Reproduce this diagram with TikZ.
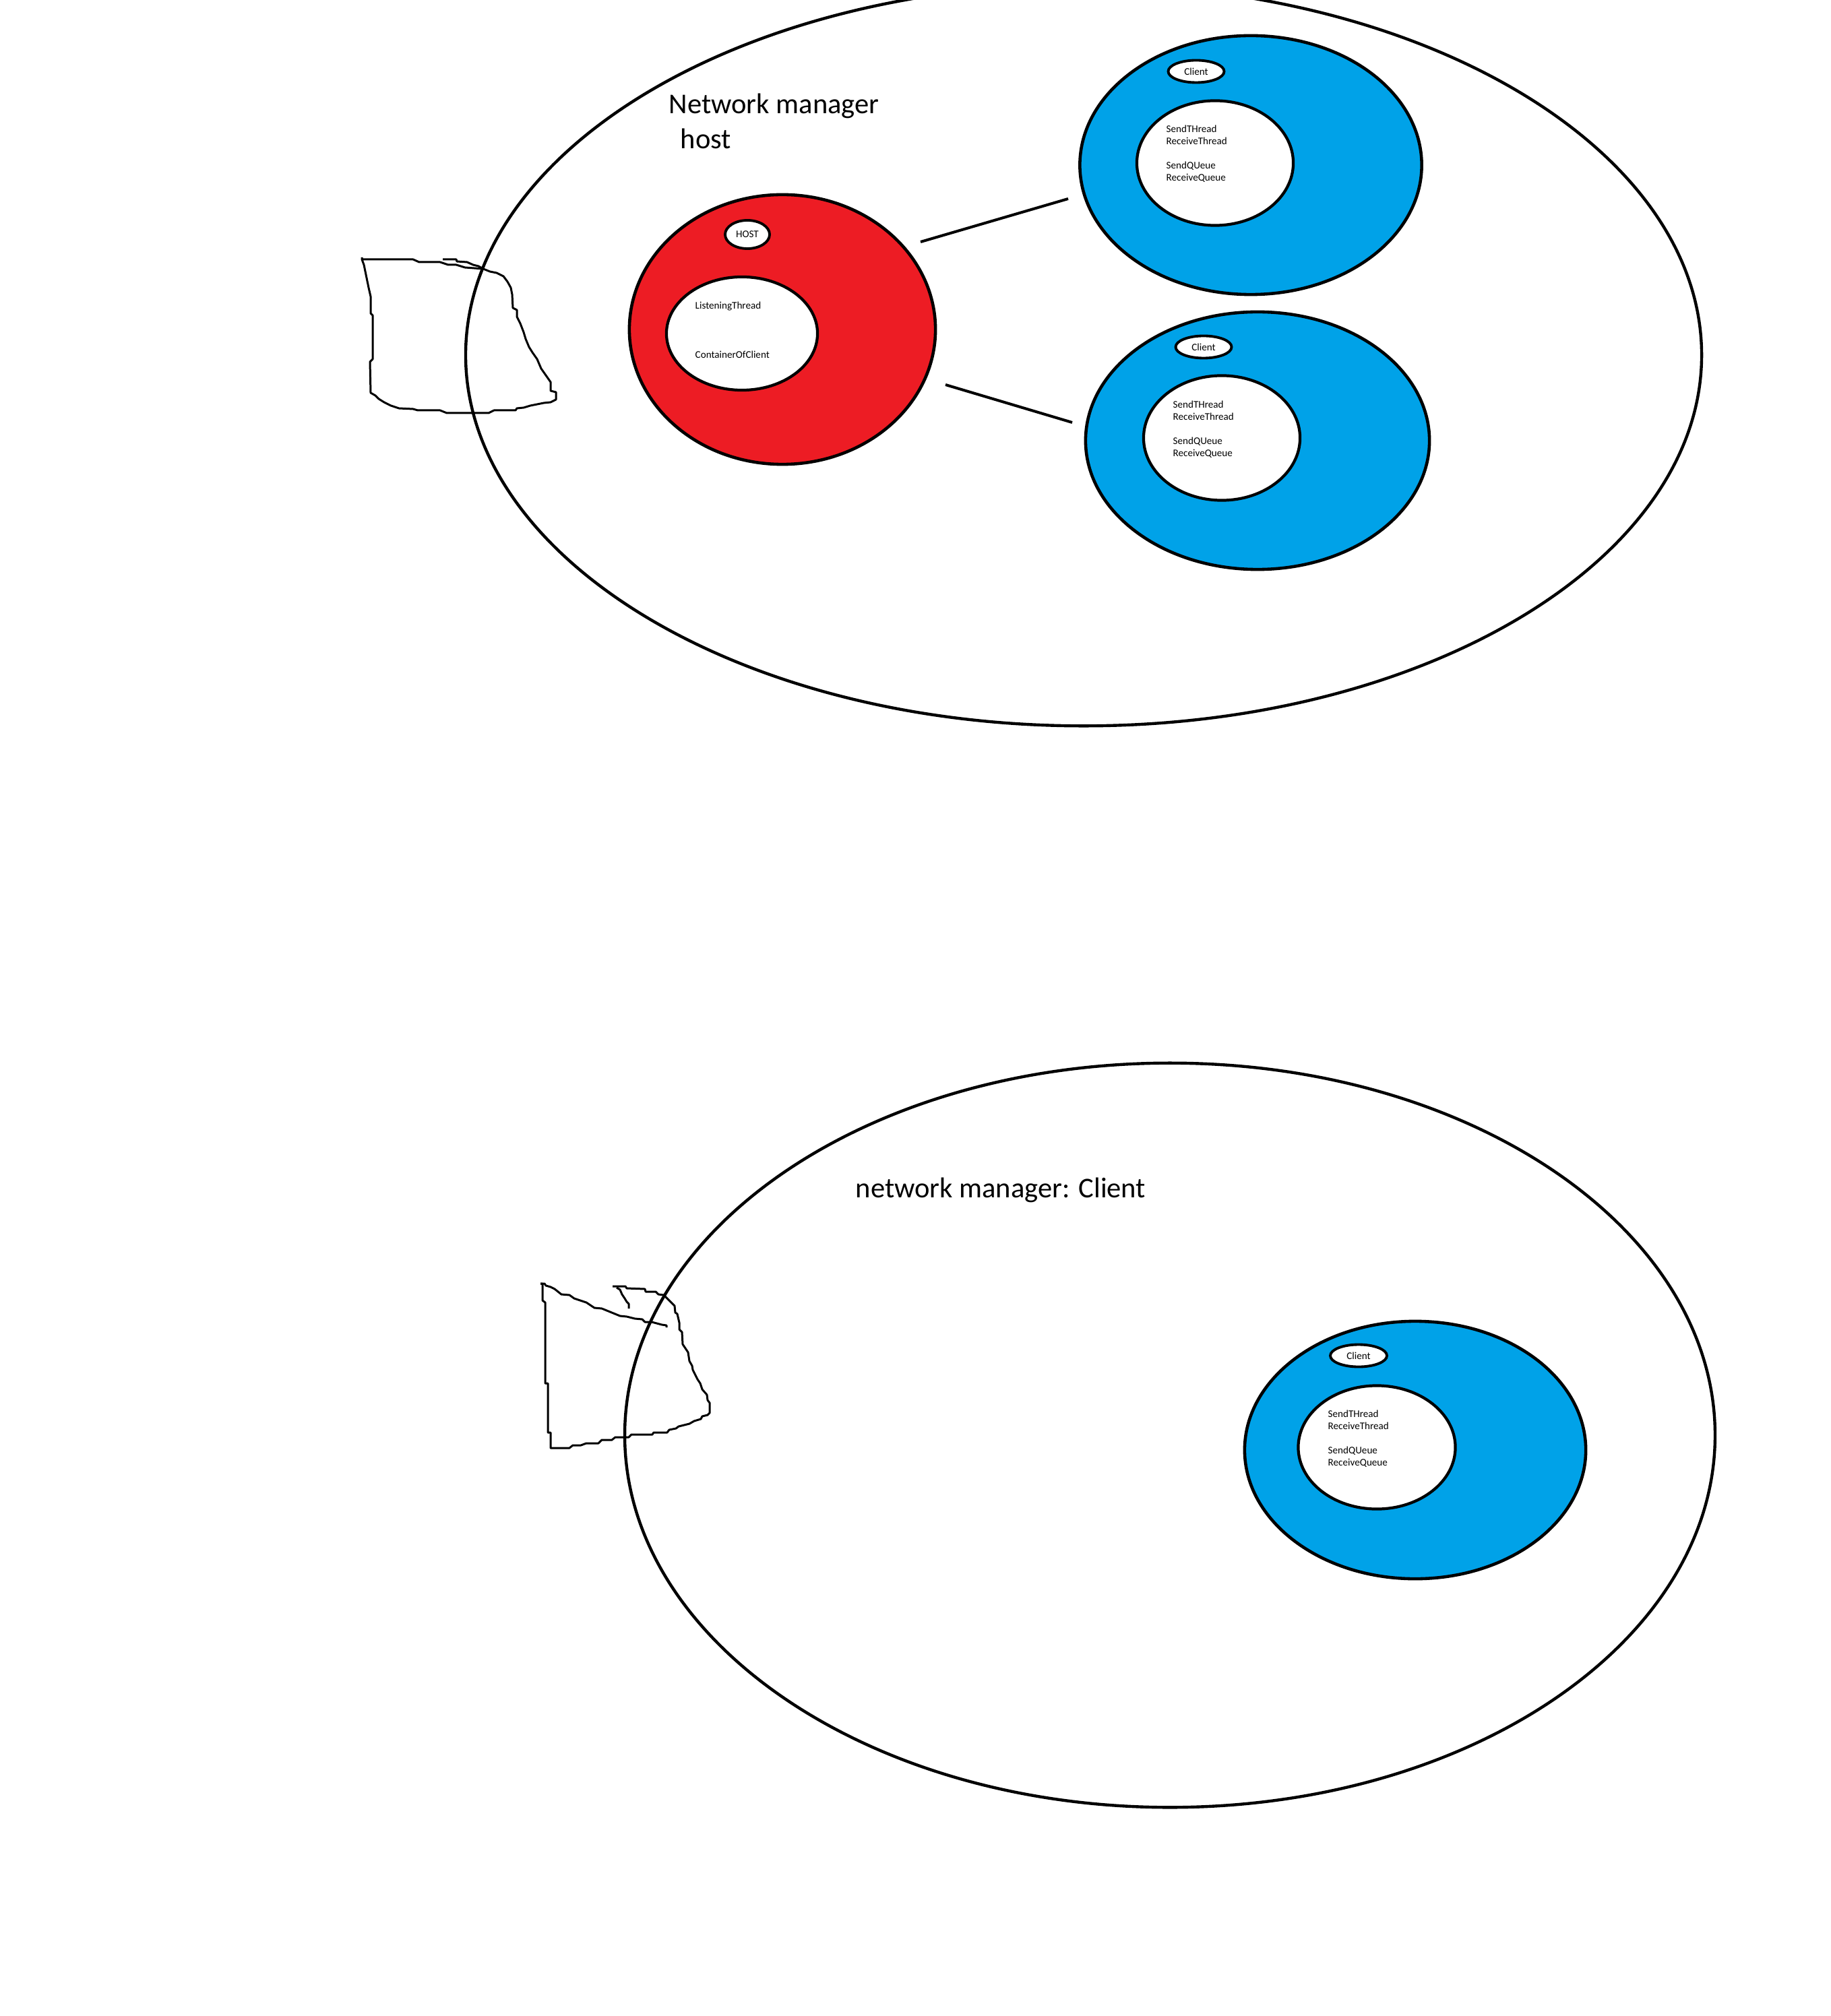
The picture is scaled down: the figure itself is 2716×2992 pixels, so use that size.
\documentclass[tikz,border=0pt]{standalone}
\usepackage{fontspec}
\setmainfont{Carlito}
\usepackage{tikz}
\usetikzlibrary{shapes.geometric}
\usetikzlibrary{positioning}

\definecolor{paintred}{HTML}{ED1C24}
\definecolor{paintblue}{HTML}{00A2E8}

\begin{document}
\begin{tikzpicture}[
    x=0.01cm, y=-0.01cm,
    mgr/.style={ellipse, draw, line width=1.25pt, inner sep=0pt},
    hostcell/.style={ellipse, draw, line width=1.3pt, inner sep=0pt, fill=paintred},
    clientcell/.style={ellipse, draw, line width=1.3pt, inner sep=0pt, fill=paintblue},
    core/.style={ellipse, draw, line width=1.2pt, inner sep=0pt, fill=white},
    tag/.style={ellipse, draw, line width=1.1pt, inner sep=0pt, fill=white, font=\fontsize{4.3}{5.1}\selectfont},
    title/.style={anchor=base west, inner sep=0pt, font=\fontsize{12.1}{14.5}\selectfont},
    member/.style={anchor=base west, inner sep=0pt, font=\fontsize{4.3}{5.1}\selectfont},
    link/.style={line width=1.15pt},
    scribble/.style={line width=0.85pt, line join=round}
]
\useasboundingbox (0,0) rectangle (2716,2992);

% Gestor de red: host
\node[mgr, minimum width=18.33cm, minimum height=11.00cm] (mgrhost) at (1608,527) {};
\node[title] (mgrhosttitle) at (992,169) {Network manager};
\node[title] (mgrhostsub) at (1009,221) {host};

% Host (rojo)
\node[hostcell, minimum width=4.54cm, minimum height=4.00cm] (host) at (1161,489) {};
\node[tag, minimum width=0.66cm, minimum height=0.42cm] (hostid) at (1109,348) {HOST};
\node[core, minimum width=2.24cm, minimum height=1.68cm] (hostcore) at (1101,495) {};
\node[member] (hostlisten) at (1031,459) {ListeningThread};
\node[member] (hostcont) at (1031,532) {ContainerOfClient};

% Cliente A
\node[clientcell, minimum width=5.07cm, minimum height=3.84cm] (cla) at (1856,245) {};
\node[tag, minimum width=0.83cm, minimum height=0.33cm] (claid) at (1775,106) {Client};
\node[core, minimum width=2.32cm, minimum height=1.85cm] (clacore) at (1803,242) {};
\node[member] (clasend) at (1730,197) {SendTHread};
\node[member] (clarecv) at (1730,215) {ReceiveThread};
\node[member] (clasq) at (1730,251) {SendQUeue};
\node[member] (clarq) at (1730,269) {ReceiveQueue};

% Cliente B
\node[clientcell, minimum width=5.10cm, minimum height=3.82cm] (clb) at (1866,654) {};
\node[tag, minimum width=0.83cm, minimum height=0.33cm] (clbid) at (1786,515) {Client};
\node[core, minimum width=2.32cm, minimum height=1.85cm] (clbcore) at (1813,650) {};
\node[member] (clbsend) at (1740,606) {SendTHread};
\node[member] (clbrecv) at (1740,624) {ReceiveThread};
\node[member] (clbsq) at (1740,660) {SendQUeue};
\node[member] (clbrq) at (1740,678) {ReceiveQueue};

% Conexiones host - clientes
\coordinate (linkaS) at (1366,359);
\coordinate (linkaE) at (1585,295);
\coordinate (linkbS) at (1403,571);
\coordinate (linkbE) at (1591,627);
\draw[link] (linkaS) -- (linkaE);
\draw[link] (linkbS) -- (linkbE);

% Dibujo a mano (arriba)
\draw[scribble] (537,382) -- (537,385) -- (613,385) -- (622,389) -- (653,389) -- (665,393) -- (677,393) -- (690,397) -- (717,399)
  -- (727,403) -- (737,405) -- (747,410) -- (753,418) -- (758,427) -- (760,437) -- (761,457) -- (767,460) -- (767,470)
  -- (772,480) -- (777,493) -- (780,503) -- (785,515) -- (790,523) -- (797,533) -- (803,547) -- (810,557) -- (817,567)
  -- (817,580) -- (825,582) -- (825,593) -- (817,597) -- (807,598) -- (787,602) -- (777,605) -- (767,606) -- (765,609)
  -- (733,609) -- (725,613) -- (663,613) -- (653,609) -- (620,609) -- (613,607) -- (592,606) -- (580,602) -- (570,597)
  -- (562,592) -- (557,587) -- (550,583) -- (549,537) -- (553,533) -- (553,468) -- (550,465) -- (550,440) -- (547,427)
  -- (540,393) -- (537,385);
\draw[scribble] (657,385) -- (677,385) -- (678,388) -- (693,389) -- (702,393) -- (710,395) -- (717,399);

% Gestor de red: cliente
\node[mgr, minimum width=16.17cm, minimum height=11.04cm] (mgrclient) at (1736,2130) {};
\node[title] (mgrclienttitle) at (1269,1777) {network manager: Client};

% Cliente C
\node[clientcell, minimum width=5.06cm, minimum height=3.82cm] (clc) at (2100,2152) {};
\node[tag, minimum width=0.84cm, minimum height=0.33cm] (clcid) at (2016,2012) {Client};
\node[core, minimum width=2.33cm, minimum height=1.83cm] (clccore) at (2043,2148) {};
\node[member] (clcsend) at (1970,2103) {SendTHread};
\node[member] (clcrecv) at (1970,2121) {ReceiveThread};
\node[member] (clcsq) at (1970,2157) {SendQUeue};
\node[member] (clcrq) at (1970,2175) {ReceiveQueue};

% Dibujo a mano (abajo)
\draw[scribble] (802,1905) -- (805,1905) -- (805,1930) -- (809,1933) -- (809,2053) -- (813,2053) -- (813,2126) -- (817,2126)
  -- (817,2149) -- (845,2149) -- (850,2145) -- (862,2145) -- (870,2142) -- (888,2142) -- (893,2137) -- (908,2137)
  -- (913,2133) -- (933,2133) -- (937,2129) -- (968,2129) -- (970,2126) -- (990,2126) -- (993,2122) -- (1003,2120)
  -- (1007,2117) -- (1023,2113) -- (1030,2109) -- (1040,2106) -- (1042,2102) -- (1050,2100) -- (1053,2097)
  -- (1053,2082) -- (1050,2078) -- (1049,2070) -- (1042,2062) -- (1039,2053) -- (1035,2047) -- (1028,2033)
  -- (1027,2027) -- (1023,2020) -- (1021,2007) -- (1013,1995) -- (1012,1977) -- (1008,1973) -- (1008,1963)
  -- (1005,1950) -- (1002,1948) -- (1001,1938) -- (996,1933) -- (990,1927) -- (985,1922) -- (977,1921) -- (973,1917)
  -- (958,1917) -- (957,1913) -- (930,1912) -- (928,1909) -- (909,1909);
\draw[scribble] (802,1905) -- (808,1905) -- (810,1908) -- (817,1910) -- (823,1913) -- (833,1921) -- (845,1922) -- (852,1927)
  -- (870,1933) -- (882,1941) -- (893,1942) -- (920,1953) -- (930,1954) -- (942,1957) -- (953,1958) -- (957,1962)
  -- (967,1962) -- (982,1966) -- (989,1967) -- (989,1970);
\draw[scribble] (915,1911) -- (920,1914) -- (923,1921) -- (927,1927) -- (930,1932) -- (933,1935) -- (933,1942);

\end{tikzpicture}
\end{document}
